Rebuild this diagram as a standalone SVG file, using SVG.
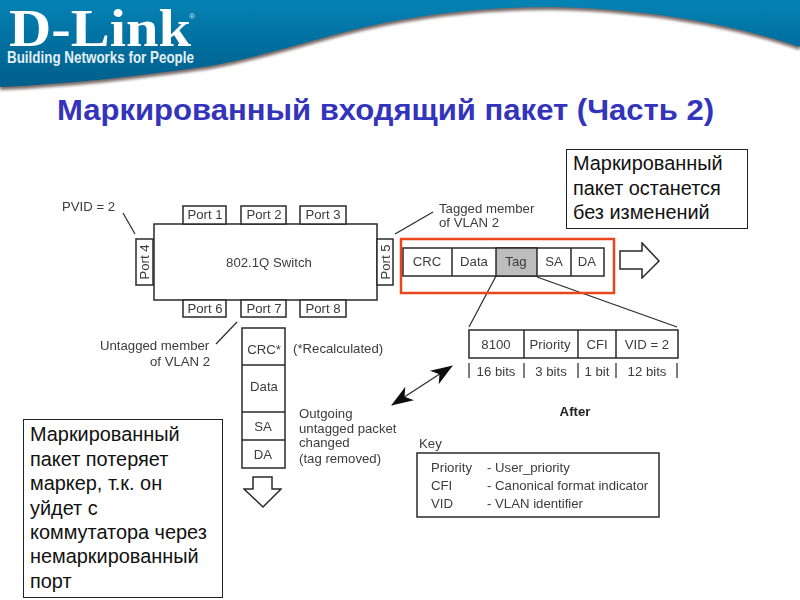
<svg xmlns="http://www.w3.org/2000/svg" width="800" height="600" viewBox="0 0 800 600">
<defs>
<linearGradient id="hdr" x1="0" y1="0" x2="0" y2="1"><stop offset="0" stop-color="#0583b4"/><stop offset="0.5" stop-color="#006f9f"/><stop offset="1" stop-color="#005f8c"/></linearGradient>
<filter id="sh" x="-5%" y="-20%" width="110%" height="140%"><feGaussianBlur stdDeviation="1.5"/></filter>
<filter id="soft" x="-2%" y="-2%" width="104%" height="104%"><feGaussianBlur stdDeviation="0.35"/></filter>
<marker id="dbl" viewBox="0 0 22 16" refX="21" refY="8" markerWidth="22" markerHeight="16" markerUnits="userSpaceOnUse" orient="auto-start-reverse"><path d="M0 0 L22 8 L0 16 L6 8 Z" fill="#111"/></marker>
</defs>
<style>
.t{font-family:"Liberation Sans",Arial,sans-serif;font-size:13.2px;fill:#3c3c3c}
.m{text-anchor:middle}
.b{fill:#fff;stroke:#2a2a2a;stroke-width:1.5}
.l{fill:none;stroke:#2a2a2a;stroke-width:1.2}
.ru{font-family:"Liberation Sans",Arial,sans-serif;font-size:19.9px;fill:#111}
.note{fill:#fff;stroke:#222;stroke-width:1}
</style>
<rect width="800" height="600" fill="#fff"/>
<g id="header">
<path d="M0 89 C70 86 140 78 210 68 C280 55 340 32 400 22 C450 13 500 9 550 9 C640 10 730 25 800 49 L800 0 L0 0 Z" fill="#7a6a66" filter="url(#sh)" transform="translate(0,1)"/>
<path d="M0 87 C70 84 140 76 210 66 C280 53 340 30 400 20 C450 11 500 7 550 7 C640 8 730 23 800 47 L800 0 L0 0 Z" fill="url(#hdr)"/>
<text x="9" y="46" font-family="'Liberation Serif',serif" font-weight="700" font-size="52" fill="#fff" textLength="182" lengthAdjust="spacingAndGlyphs">D-Link</text>
<text x="189" y="19" font-family="'Liberation Sans',sans-serif" font-size="8" fill="#cfe3ee">®</text>
<text x="7" y="63" font-family="'Liberation Sans',sans-serif" font-weight="700" font-size="16" fill="#e4eef3" textLength="187" lengthAdjust="spacingAndGlyphs">Building Networks for People</text>
</g>
<text id="title" x="57" y="120" font-family="'Liberation Sans',sans-serif" font-weight="700" font-size="29.500" fill="#3333bb" textLength="657" lengthAdjust="spacingAndGlyphs">Маркированный входящий пакет (Часть 2)</text>
<g id="connectors" filter="url(#soft)">
<path class="l" d="M123 213 L135 234"/>
<path class="l" d="M237 322 L216 344"/>
<path class="l" d="M395 234 L433 212"/>
<path class="l" d="M496 276 L469 327"/>
<path class="l" d="M537 277 L677 327"/>
<path class="l" d="M392 405 L452 366" marker-start="url(#dbl)" marker-end="url(#dbl)"/>
<path class="l" d="M469 363V378M524 363V378M578 363V378M616 363V378M677 363V378" stroke-width="1.5"/>
</g>
<g id="switch" filter="url(#soft)">
<rect class="b" x="154" y="224" width="223" height="76"/>
<text class="t m" x="269" y="267">802.1Q Switch</text>
</g>
<g id="port1" filter="url(#soft)"><rect class="b" x="183" y="206" width="43" height="18"/><text class="t m" x="205" y="219">Port 1</text></g>
<g id="port2" filter="url(#soft)"><rect class="b" x="241" y="206" width="45" height="18"/><text class="t m" x="264" y="219">Port 2</text></g>
<g id="port3" filter="url(#soft)"><rect class="b" x="300" y="206" width="46" height="18"/><text class="t m" x="323" y="219">Port 3</text></g>
<g id="port4" filter="url(#soft)"><rect class="b" x="136" y="239" width="17" height="46"/><text class="t m" transform="translate(149,262) rotate(-90)">Port 4</text></g>
<g id="port5" filter="url(#soft)"><rect class="b" x="377" y="239" width="16" height="46"/><text class="t m" transform="translate(390,262) rotate(-90)">Port 5</text></g>
<g id="port6" filter="url(#soft)"><rect class="b" x="183" y="300" width="43" height="17"/><text class="t m" x="205" y="313">Port 6</text></g>
<g id="port7" filter="url(#soft)"><rect class="b" x="241" y="300" width="45" height="17"/><text class="t m" x="264" y="313">Port 7</text></g>
<g id="port8" filter="url(#soft)"><rect class="b" x="300" y="300" width="46" height="17"/><text class="t m" x="323" y="313">Port 8</text></g>
<g id="labels" filter="url(#soft)">
<text class="t" x="62" y="211">PVID = 2</text>
<text class="t" x="439" y="213">Tagged member</text>
<text class="t" x="439" y="227">of VLAN 2</text>
<text class="t" x="100" y="350">Untagged member</text>
<text class="t" x="150" y="366">of VLAN 2</text>
<text class="t" x="293" y="353">(*Recalculated)</text>
<text class="t" x="299" y="418">Outgoing</text>
<text class="t" x="299" y="433">untagged packet</text>
<text class="t" x="299" y="447">changed</text>
<text class="t" x="299" y="463">(tag removed)</text>
<text class="t m" x="575" y="416" font-weight="700" style="fill:#222">After</text>
<text class="t" x="419" y="448">Key</text>
</g>
<g id="tagged-packet" filter="url(#soft)">
<rect x="401" y="239" width="213" height="54" fill="none" stroke="#e8461e" stroke-width="2.500"/>
<rect class="b" x="403" y="248" width="201" height="28"/>
<rect x="496" y="248" width="41" height="28" fill="#bdbdbd" stroke="#2a2a2a" stroke-width="1.5"/>
<path class="b" d="M452 248V276M571 248V276"/>
<text class="t m" x="427" y="266">CRC</text><text class="t m" x="474" y="266">Data</text><text class="t m" x="516" y="266">Tag</text><text class="t m" x="554" y="266">SA</text><text class="t m" x="587" y="266">DA</text>
</g>
<g id="arrow-right" filter="url(#soft)"><path class="b" d="M620 251H642V243L659 261L642 278V269H620Z"/></g>
<g id="tag-detail" filter="url(#soft)">
<rect class="b" x="469" y="330" width="209" height="28"/>
<path class="b" d="M524 330V358M578 330V358M616 330V358"/>
<text class="t m" x="496" y="349">8100</text><text class="t m" x="550" y="349">Priority</text><text class="t m" x="597" y="349">CFI</text><text class="t m" x="647" y="349">VID = 2</text>
<text class="t m" x="496" y="376">16 bits</text><text class="t m" x="551" y="376">3 bits</text><text class="t m" x="597" y="376">1 bit</text><text class="t m" x="647" y="376">12 bits</text>
</g>
<g id="untagged-packet" filter="url(#soft)">
<rect class="b" x="242" y="328" width="43" height="140"/>
<path class="b" d="M242 365H285M242 412H285M242 440H285"/>
<text class="t m" x="264" y="354">CRC*</text><text class="t m" x="264" y="391">Data</text><text class="t m" x="263" y="431">SA</text><text class="t m" x="263" y="459">DA</text>
</g>
<g id="arrow-down" filter="url(#soft)"><path class="b" d="M253 477H272V489H281L263 507L244 489H253Z"/></g>
<g id="key" filter="url(#soft)">
<rect class="b" x="417" y="453" width="242" height="64"/>
<text class="t" x="431" y="472">Priority</text><text class="t" x="431" y="490">CFI</text><text class="t" x="431" y="508">VID</text>
<text class="t" x="487" y="472">- User_priority</text><text class="t" x="487" y="490">- Canonical format indicator</text><text class="t" x="487" y="508">- VLAN identifier</text>
</g>
<g id="note-top">
<rect class="note" x="566.500" y="149.500" width="181" height="79"/>
<text class="ru" x="573" y="170">Маркированный</text><text class="ru" x="573" y="195">пакет останется</text><text class="ru" x="573" y="219">без изменений</text>
</g>
<g id="note-bottom">
<rect class="note" x="23.500" y="419.500" width="199" height="178"/>
<text class="ru" x="30" y="441">Маркированный</text><text class="ru" x="30" y="466">пакет потеряет</text><text class="ru" x="30" y="490">маркер, т.к. он</text><text class="ru" x="30" y="515">уйдет с</text><text class="ru" x="30" y="539">коммутатора через</text><text class="ru" x="30" y="563">немаркированный</text><text class="ru" x="30" y="588">порт</text>
</g>
</svg>
